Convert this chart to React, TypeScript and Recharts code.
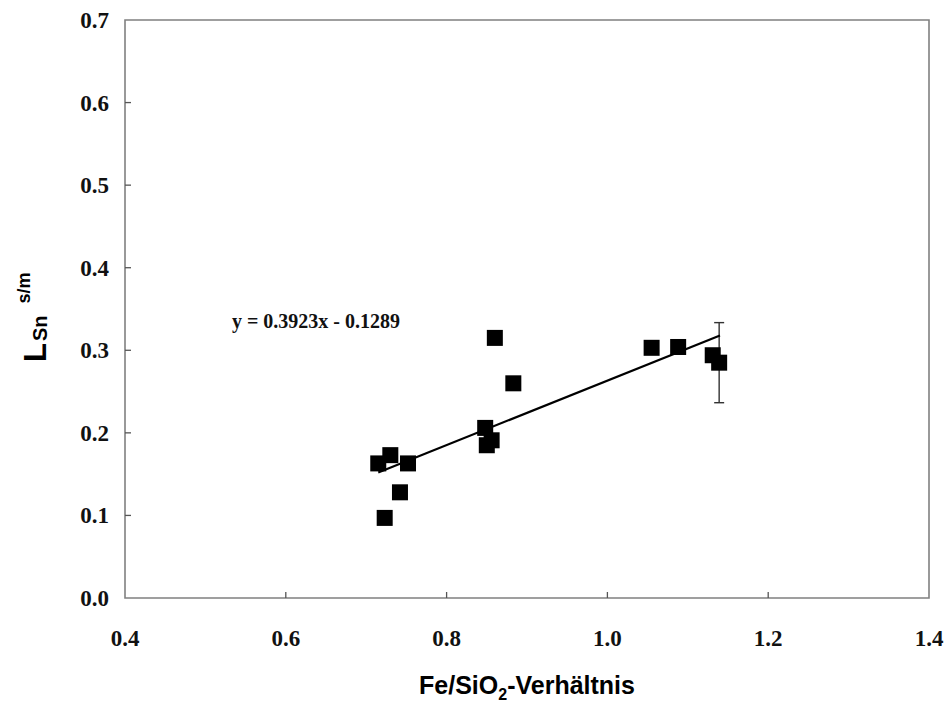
import React from 'react';
import {
  ScatterChart,
  Scatter,
  XAxis,
  YAxis,
  ReferenceArea,
  ReferenceDot,
  ErrorBar,
} from 'recharts';

// Measured points (Fe/SiO2 ratio, L_Sn s/m)
const ratioX = [0.715, 0.73, 0.723, 0.742, 0.752, 0.848, 0.85, 0.856, 0.86, 0.883, 1.055, 1.088, 1.131, 1.139];
const lsnY = [0.163, 0.173, 0.097, 0.128, 0.163, 0.206, 0.185, 0.191, 0.315, 0.26, 0.303, 0.304, 0.294, 0.285];
const errY = [null, null, null, null, null, null, null, null, null, null, null, null, null, 0.0485];

// Trend line end points (y = 0.3923x - 0.1289)
const trendX = [0.715, 1.14];
const trendY = [0.152, 0.318];

const xTicks = [0.4, 0.6, 0.8, 1.0, 1.2, 1.4];
const yTicks = [0.0, 0.1, 0.2, 0.3, 0.4, 0.5, 0.6, 0.7];

const equationText = 'y = 0.3923x - 0.1289';
const equationPos = { x: 0.533, y: 0.3275 };

const points = ratioX.map((x, i) => ({ x, y: lsnY[i], err: errY[i] ?? undefined }));
const trend = trendX.map((x, i) => ({ x, y: trendY[i] }));

const SERIF = '"Liberation Serif", "Times New Roman", serif';
const SANS = '"Liberation Sans", Arial, sans-serif';

const YTick = (props: any) => {
  const { x, y, payload } = props;
  const v = payload.value as number;
  const axisX = x + 16;
  const showTick = v > 0.0001 && v < 0.6999;
  return (
    <g>
      {showTick && <line x1={axisX} x2={axisX + 6} y1={y} y2={y} stroke="#555" strokeWidth={1.3} />}
      <text x={x} y={y + 8} textAnchor="end" fontFamily={SERIF} fontWeight="bold" fontSize={23} fill="#111">
        {v.toFixed(1)}
      </text>
    </g>
  );
};

const XTick = (props: any) => {
  const { x, y, payload } = props;
  const v = payload.value as number;
  const showTick = v > 0.4001 && v < 1.3999;
  return (
    <g>
      {showTick && <line x1={x} x2={x} y1={y} y2={y - 6} stroke="#555" strokeWidth={1.3} />}
      <text x={x} y={y + 48} textAnchor="middle" fontFamily={SERIF} fontWeight="bold" fontSize={23} fill="#111">
        {v.toFixed(1)}
      </text>
    </g>
  );
};

const XTitle = (props: any) => {
  const vb = props.viewBox || { x: 125, y: 598, width: 804 };
  const cx = vb.x + vb.width / 2;
  return (
    <text x={cx} y={vb.y + 96} textAnchor="middle" fontFamily={SANS} fontWeight="bold" fontSize={25} fill="#000">
      <tspan>Fe/SiO</tspan>
      <tspan fontSize={16} dy={6}>2</tspan>
      <tspan dy={-6}>-Verhältnis</tspan>
    </text>
  );
};

const YTitle = () => {
  return (
    <text transform="translate(46, 362) rotate(-90)" x={0} y={0} fontFamily={SANS} fontWeight="bold" fill="#000">
      <tspan fontSize={31}>L</tspan>
      <tspan fontSize={20} dx={2} dy={1}>Sn</tspan>
      <tspan fontSize={18} dx={12} dy={-17}>s/m</tspan>
    </text>
  );
};

const Square = (props: any) => {
  const { cx, cy } = props;
  if (cx == null || cy == null) return null;
  return <rect x={cx - 8} y={cy - 8} width={16} height={16} fill="#000" />;
};

export default function App() {
  return (
    <div style={{ position: 'absolute', left: 0, top: 0, background: '#fff' }}>
      <ScatterChart width={949} height={710} margin={{ top: 20, right: 20, bottom: 0, left: 0 }}>
        <XAxis
          type="number"
          dataKey="x"
          domain={[0.4, 1.4]}
          ticks={xTicks}
          axisLine={false}
          tickLine={false}
          tickSize={0}
          tickMargin={0}
          tick={<XTick />}
          height={112}
          allowDataOverflow
          label={{ content: <XTitle /> }}
        />
        <YAxis
          type="number"
          dataKey="y"
          domain={[0, 0.7]}
          ticks={yTicks}
          axisLine={false}
          tickLine={false}
          tickSize={0}
          tickMargin={16}
          tick={<YTick />}
          width={125}
          allowDataOverflow
          label={{ content: <YTitle /> }}
        />
        <ReferenceArea x1={0.4} x2={1.4} y1={0} y2={0.7} fill="none" fillOpacity={0} stroke="#808080" strokeWidth={1.6} />
        <Scatter
          data={trend}
          line={{ stroke: '#000', strokeWidth: 2.2 }}
          shape={() => null}
          isAnimationActive={false}
        />
        <Scatter data={points} shape={<Square />} isAnimationActive={false}>
          <ErrorBar dataKey="err" direction="y" width={5} stroke="#333" strokeWidth={1.4} isAnimationActive={false} />
        </Scatter>
        <ReferenceDot
          x={equationPos.x}
          y={equationPos.y}
          r={0}
          shape={(p: any) => (
            <text x={p.cx} y={p.cy} fontFamily={SERIF} fontWeight="bold" fontSize={20} fill="#111">
              {equationText}
            </text>
          )}
        />
      </ScatterChart>
    </div>
  );
}
